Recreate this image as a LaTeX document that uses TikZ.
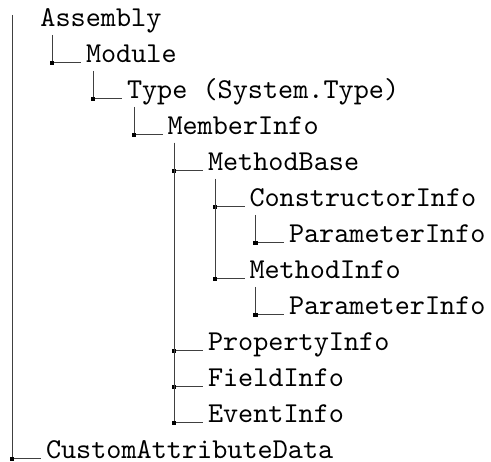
\documentclass[tikz,border=0pt]{standalone}
\usepackage{graphicx}
% typewriter labels set at 10pt design size and enlarged
\newcommand{\lbl}[1]{\scalebox{2.88}{\ttfamily #1}}
\begin{document}
\begin{tikzpicture}[x=1pt,y=-1pt,
  entry/.style={anchor=base west,inner sep=0pt,outer sep=0pt},
  branch/.style={draw=black!75,line width=1pt},
  joint/.style={rectangle,fill=black,inner sep=0pt,minimum size=4.5pt}]
\useasboundingbox (0,0) rectangle (491,462);

% entries, one row every 36 units
\node[entry] (asm)  at (40.5,27)  {\lbl{Assembly}};
\node[entry] (mod)  at (86,63)    {\lbl{Module}};
\node[entry] (typ)  at (127,99)   {\lbl{Type (System.Type)}};
\node[entry] (mem)  at (167.5,135) {\lbl{MemberInfo}};
\node[entry] (mb)   at (208,171)  {\lbl{MethodBase}};
\node[entry] (ci)   at (249.5,207) {\lbl{ConstructorInfo}};
\node[entry] (pi1)  at (289,243)  {\lbl{ParameterInfo}};
\node[entry] (mi)   at (249.5,279) {\lbl{MethodInfo}};
\node[entry] (pi2)  at (289,315)  {\lbl{ParameterInfo}};
\node[entry] (prop) at (208,351)  {\lbl{PropertyInfo}};
\node[entry] (fld)  at (208,387)  {\lbl{FieldInfo}};
\node[entry] (evt)  at (208,423)  {\lbl{EventInfo}};
\node[entry] (cad)  at (46,459)   {\lbl{CustomAttributeData}};

% stems hanging below each parent
\coordinate (root)     at (12,15);
\coordinate (asm-stem) at ([shift={(11.5pt,-8pt)}]asm.base west);
\coordinate (mod-stem) at ([shift={(7pt,-8pt)}]mod.base west);
\coordinate (typ-stem) at ([shift={(7pt,-8pt)}]typ.base west);
\coordinate (mem-stem) at ([shift={(6.5pt,-8pt)}]mem.base west);
\coordinate (mb-stem)  at ([shift={(7pt,-8pt)}]mb.base west);
\coordinate (ci-stem)  at ([shift={(6pt,-8pt)}]ci.base west);
\coordinate (mi-stem)  at ([shift={(6pt,-8pt)}]mi.base west);

% branches
\draw[branch] (asm-stem) |- node[joint,pos=0.5]{} ([xshift=-5pt]mod.base west);
\draw[branch] (mod-stem) |- node[joint,pos=0.5]{} ([xshift=-5pt]typ.base west);
\draw[branch] (typ-stem) |- node[joint,pos=0.5]{} ([xshift=-5pt]mem.base west);
\draw[branch] (mem-stem) |- node[joint,pos=0.5]{} ([xshift=-5pt]mb.base west);
\draw[branch] (mem-stem) |- node[joint,pos=0.5]{} ([xshift=-5pt]prop.base west);
\draw[branch] (mem-stem) |- node[joint,pos=0.5]{} ([xshift=-5pt]fld.base west);
\draw[branch] (mem-stem) |- node[joint,pos=0.5]{} ([xshift=-5pt]evt.base west);
\draw[branch] (mb-stem)  |- node[joint,pos=0.5]{} ([xshift=-5pt]ci.base west);
\draw[branch] (mb-stem)  |- node[joint,pos=0.5]{} ([xshift=-5pt]mi.base west);
\draw[branch] (ci-stem)  |- node[joint,pos=0.5]{} ([xshift=-5pt]pi1.base west);
\draw[branch] (mi-stem)  |- node[joint,pos=0.5]{} ([xshift=-5pt]pi2.base west);
\draw[branch] (root)     |- node[joint,pos=0.5]{} ([xshift=-5pt]cad.base west);
\end{tikzpicture}
\end{document}
